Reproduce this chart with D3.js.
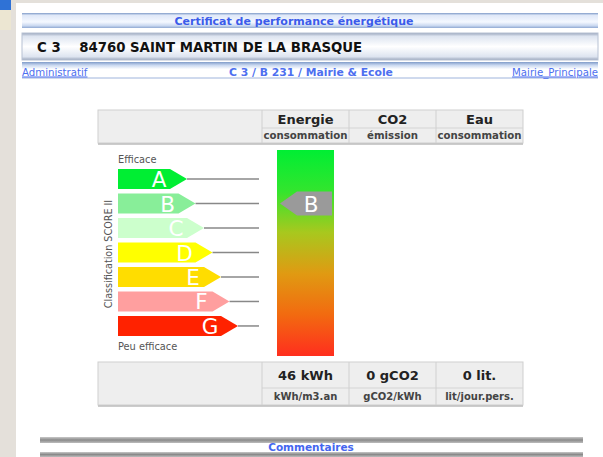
<!DOCTYPE html>
<html>
<head>
<meta charset="utf-8">
<script src="https://cdn.jsdelivr.net/npm/d3@7"></script>
<style>
  body { margin: 0; background: #fff; }
  svg { display: block; }
  text { font-family: "DejaVu Sans", Verdana, sans-serif; }
</style>
</head>
<body>
<div id="chart"></div>
<script>
// Data
const title = "Certificat de performance énergétique";
const siteLine = "C 3    84760 SAINT MARTIN DE LA BRASQUE";
const navLinks = ["Administratif", "C 3 / B 231 / Mairie & Ecole", "Mairie_Principale"];
const classes = ["A", "B", "C", "D", "E", "F", "G"];
const classColors = ["#00ee33", "#88ee99", "#ccffcc", "#ffff00", "#ffdd00", "#ff9f9f", "#ff2200"];
const metrics = ["Energie", "CO2", "Eau"];
const metricSubs = ["consommation", "émission", "consommation"];
const metricValues = ["46 kWh", "0 gCO2", "0 lit."];
const metricUnits = ["kWh/m3.an", "gCO2/kWh", "lit/jour.pers."];
const energyClass = "B";
const gradientStops = ["#00ee33", "#33e52e", "#a8c81e", "#e09a12", "#f26a10", "#ff2e1e"];

const width = 603, height = 457;

const svg = d3.select("#chart")
    .append("svg")
    .attr("width", width)
    .attr("height", height);

const defs = svg.append("defs");

function vGrad(id, stops) {
    const g = defs.append("linearGradient").attr("id", id)
        .attr("x1", 0).attr("x2", 0).attr("y1", 0).attr("y2", 1);
    stops.forEach(s => g.append("stop").attr("offset", s[0]).attr("stop-color", s[1]));
}
vGrad("blueBar", [[0, "#7f9bc8"], [0.15, "#dfe8f8"], [0.6, "#f4f8ff"], [0.85, "#c9d8f0"], [1, "#8fa8d2"]]);
vGrad("greyBox", [[0, "#9aa6bc"], [0.12, "#dde4f0"], [0.5, "#ffffff"], [0.88, "#dde4f0"], [1, "#9aa6bc"]]);
vGrad("navBar", [[0, "#7f9bc8"], [0.2, "#c9d8f0"], [0.45, "#ffffff"], [1, "#ffffff"]]);
vGrad("commentBar", [[0, "#c8c8c8"], [0.5, "#8a8a8a"], [1, "#bdbdbd"]]);
vGrad("scoreBar", gradientStops.map((c, i) => [i / (gradientStops.length - 1), c]));

// Background around the page
svg.append("rect").attr("width", width).attr("height", height).attr("fill", "#e4e0da");
svg.append("rect").attr("x", 0).attr("y", 0).attr("width", 11).attr("height", 10).attr("fill", "#2f72d6");
svg.append("rect").attr("x", 0).attr("y", 10).attr("width", 11).attr("height", 20).attr("fill", "#ece6d2");
svg.append("rect").attr("x", 16).attr("y", 3).attr("width", width - 16).attr("height", height - 3).attr("fill", "#ffffff");

// Header bars
svg.append("rect").attr("x", 22).attr("y", 13).attr("width", 576).attr("height", 15).attr("fill", "url(#blueBar)");
svg.append("text").attr("x", 294).attr("y", 24.5).attr("text-anchor", "middle")
    .attr("font-size", 11).attr("font-weight", "bold").attr("fill", "#3b5bea").text(title);

svg.append("rect").attr("x", 22).attr("y", 33).attr("width", 576).attr("height", 27)
    .attr("fill", "url(#greyBox)").attr("stroke", "#b8c2d4");
svg.append("text").attr("x", 37).attr("y", 52).attr("font-size", 13.3).attr("font-weight", "bold")
    .attr("fill", "#111").attr("xml:space", "preserve").text(siteLine);

svg.append("rect").attr("x", 22).attr("y", 62).attr("width", 576).attr("height", 16).attr("fill", "url(#navBar)");
svg.append("line").attr("x1", 22).attr("x2", 598).attr("y1", 78).attr("y2", 78).attr("stroke", "#9fb4dc");
const navX = d3.scalePoint().domain(navLinks).range([22, 598]);
svg.selectAll(".nav").data(navLinks).join("text")
    .attr("class", "nav")
    .attr("x", d => navX(d) + (d === navLinks[1] ? 1 : 0))
    .attr("y", 75.5)
    .attr("text-anchor", (d, i) => ["start", "middle", "end"][i])
    .attr("font-size", (d, i) => i === 1 ? 10.8 : 10.2)
    .attr("font-weight", (d, i) => i === 1 ? "bold" : "normal")
    .attr("fill", "#4d6ff0")
    .attr("text-decoration", (d, i) => i === 1 ? "none" : "underline")
    .text(d => d);

// Metric table columns
const colEdges = [262, 349, 436, 523];
const xCol = d3.scaleBand().domain(metrics).range([colEdges[0], colEdges[3]]).padding(0);

function tableBlock(y0, yMid, y1, tops, bottoms, topSize, botSize) {
    svg.append("rect").attr("x", 98).attr("y", y0).attr("width", 425).attr("height", y1 - y0)
        .attr("fill", "#eeeeee").attr("stroke", "#cfcfcf");
    svg.append("line").attr("x1", 98).attr("x2", 523).attr("y1", y1 + 1).attr("y2", y1 + 1)
        .attr("stroke", "#bbbbbb").attr("stroke-width", 1.5);
    svg.append("line").attr("x1", colEdges[0]).attr("x2", 523).attr("y1", yMid).attr("y2", yMid).attr("stroke", "#d4d4d4");
    svg.selectAll(null).data(colEdges.slice(0, 3)).join("line")
        .attr("x1", d => d).attr("x2", d => d).attr("y1", y0).attr("y2", y1).attr("stroke", "#d0d0d0");
    svg.selectAll(null).data(tops).join("text")
        .attr("x", (d, i) => xCol(metrics[i]) + xCol.bandwidth() / 2)
        .attr("y", y0 + (yMid - y0) / 2 + topSize * 0.36)
        .attr("text-anchor", "middle").attr("font-size", topSize).attr("font-weight", "bold")
        .attr("fill", "#222").text(d => d);
    svg.selectAll(null).data(bottoms).join("text")
        .attr("x", (d, i) => xCol(metrics[i]) + xCol.bandwidth() / 2)
        .attr("y", yMid + (y1 - yMid) / 2 + botSize * 0.36)
        .attr("text-anchor", "middle").attr("font-size", botSize).attr("font-weight", "bold")
        .attr("fill", "#444").text(d => d);
}
tableBlock(110, 128, 143, metrics, metricSubs, 13, 10.2);
tableBlock(362, 388, 405, metricValues, metricUnits, 13, 10);

// Classification arrows
const yClass = d3.scaleBand().domain(classes).range([169, 336]).paddingInner(0.18);
const tipX = d3.scaleLinear().domain([0, classes.length - 1]).range([187, 238]);
const barLeft = 118, tipLen = 17, lineEnd = 259;

svg.append("text").attr("x", 118).attr("y", 163).attr("font-size", 9.8).attr("fill", "#555").text("Efficace");
svg.append("text").attr("x", 118).attr("y", 350).attr("font-size", 9.8).attr("fill", "#555").text("Peu efficace");
svg.append("text").attr("transform", "translate(112,254) rotate(-90)")
    .attr("text-anchor", "middle").attr("font-size", 9.6).attr("fill", "#555").text("Classification SCORE II");

const rows = svg.selectAll(".cls").data(classes).join("g").attr("class", "cls");
rows.append("line")
    .attr("x1", (d, i) => tipX(i)).attr("x2", lineEnd)
    .attr("y1", d => yClass(d) + yClass.bandwidth() / 2)
    .attr("y2", d => yClass(d) + yClass.bandwidth() / 2)
    .attr("stroke", "#888").attr("stroke-width", 1.5);
rows.append("path")
    .attr("d", (d, i) => {
        const y = yClass(d), h = yClass.bandwidth(), t = tipX(i);
        return `M${barLeft},${y}H${t - tipLen}L${t},${y + h / 2}L${t - tipLen},${y + h}H${barLeft}Z`;
    })
    .attr("fill", (d, i) => classColors[i]);
rows.append("text")
    .attr("x", (d, i) => tipX(i) - 28)
    .attr("y", d => yClass(d) + yClass.bandwidth() / 2 + 8)
    .attr("text-anchor", "middle").attr("font-size", 21.5).attr("fill", "#ffffff").text(d => d);

// Energy score bar
const barX = 277, barW = 57, barTop = 150, barBottom = 356;
svg.append("rect").attr("x", barX).attr("y", barTop).attr("width", barW).attr("height", barBottom - barTop)
    .attr("fill", "url(#scoreBar)");

// Marker for the building class
const my = yClass(energyClass), mh = yClass.bandwidth() + 4;
svg.append("path")
    .attr("d", `M${barX + 3},${my - 2 + mh / 2}L${barX + 20},${my - 2}H${barX + barW - 2}V${my - 2 + mh}H${barX + 20}Z`)
    .attr("fill", "#9a9a9a");
svg.append("text").attr("x", barX + 34).attr("y", my + yClass.bandwidth() / 2 + 8)
    .attr("text-anchor", "middle").attr("font-size", 21.5).attr("fill", "#ffffff").text(energyClass);

// Comment bar
svg.append("rect").attr("x", 40).attr("y", 437).attr("width", 543).attr("height", 6).attr("fill", "url(#commentBar)");
svg.append("rect").attr("x", 40).attr("y", 452).attr("width", 543).attr("height", 5).attr("fill", "url(#commentBar)");
svg.append("text").attr("x", 311).attr("y", 450.5).attr("text-anchor", "middle")
    .attr("font-size", 10.5).attr("font-weight", "bold").attr("fill", "#4466f0").text("Commentaires");
</script>
</body>
</html>
